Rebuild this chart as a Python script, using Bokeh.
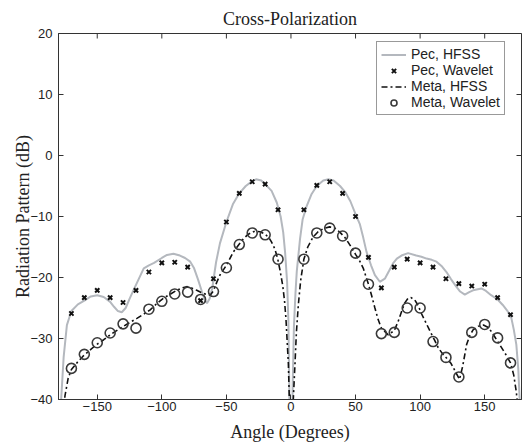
import math
from bokeh.plotting import figure
from bokeh.models import FixedTicker, Range1d, Legend, LegendItem, Title
from bokeh.embed import file_html
from bokeh.resources import INLINE

# Pec, HFSS (simulated curve)
pec_hfss_angle = [-178.5, -176, -173.5, -170, -165, -160, -155, -150, -145, -140, -137, -134, -131, -128,
                  -125, -122, -118, -114, -110, -106, -100, -96, -91, -86, -82, -78, -75, -72, -69, -67,
                  -65, -63, -61, -58, -55, -50, -45, -40, -35, -30, -27, -23, -20, -15, -11, -8, -6, -4.5,
                  -3, -2, -1.3, -0.8, 0, 0.8, 1.3, 2.3, 3.5, 4.5, 7, 9, 12, 16, 20, 25, 29, 33, 38, 42,
                  46, 50, 53.4, 56, 58.5, 62, 65, 68.8, 72.7, 76, 79, 82, 85.6, 90.7, 97, 101, 105, 109,
                  112.7, 117, 120.4, 124, 128, 131, 134.6, 138, 141, 147.5, 151, 155, 160, 164, 168,
                  170.7, 172.5, 174.5, 176, 177.5]
pec_hfss_db = [-42, -33, -27.8, -25.5, -24.4, -23.8, -23.1, -22.9, -23.2, -24.0, -24.8, -25.5, -25.7, -25.0,
               -23.5, -22.1, -20.3, -18.5, -18.0, -17.6, -16.8, -16.3, -16.1, -16.4, -16.8, -17.4, -18.5,
               -20.3, -22.3, -23.6, -24.2, -23.5, -21.8, -17.5, -14.4, -10.9, -8.0, -6.2, -5.0, -4.2, -3.9,
               -4.1, -4.7, -5.8, -7.7, -10.0, -12.6, -16, -20.7, -27, -38, -50, -60, -50, -38, -28, -22.5,
               -19, -13.7, -10.5, -8.4, -6.3, -5.0, -4.1, -3.9, -4.1, -5.0, -6.0, -7.5, -9.6, -11.3,
               -13.5, -15.8, -18, -19.6, -20.7, -20.2, -18.9, -17.7, -16.9, -16.4, -16.0, -16.4, -16.6,
               -16.9, -17.1, -17.4, -18.2, -19.1, -20.3, -21.5, -22.3, -22.8, -22.4, -22.1, -21.8, -22.2,
               -22.9, -23.6, -24.5, -25.6, -26.7, -28.5, -31, -35, -42]

# Meta, HFSS (simulated curve)
meta_hfss_angle = [-176, -175, -172.5, -170, -165, -161, -155, -150.6, -145, -140, -135, -129.7, -125,
                   -119.3, -114, -109, -104, -98.8, -94, -88.4, -84, -80.7, -77, -73, -68, -65, -62.6, -60,
                   -57.5, -55, -50, -44.6, -40, -37, -33, -28, -24, -20, -17, -15, -12.5, -10.3, -8.5,
                   -6.4, -5, -3.9, -2, -1.3, -0.7, 0, 0.8, 1.8, 3.1, 4.2, 5.7, 7.5, 10, 13, 17, 21, 25,
                   30, 34, 38, 42, 45.7, 50, 52.5, 56, 60, 62.5, 65, 67.5, 70, 75.3, 80, 83, 85.6, 88,
                   90.7, 93, 95.9, 98.5, 101, 104, 107.7, 111, 114, 117, 120.4, 124, 127, 130.5, 133,
                   136, 138.5, 141, 145, 149, 152, 155, 158, 161.6, 166, 170, 172.5, 174.5, 176]
meta_hfss_db = [-42, -39.4, -36.5, -35.1, -33.8, -32.9, -31.8, -31.0, -30.2, -29.4, -28.7, -28.0, -27.4,
                -26.7, -26.0, -25.3, -24.3, -23.4, -22.8, -22.1, -21.7, -21.5, -21.7, -22.1, -22.6, -22.8,
                -22.9, -22.2, -20.8, -19.6, -18.0, -15.8, -14.5, -13.7, -12.9, -12.4, -12.5, -12.9, -13.5,
                -14.2, -15.3, -16.9, -18.8, -21.3, -23.8, -26.7, -34.2, -39.7, -48, -60, -48, -40, -34.2,
                -29, -24.5, -20.5, -17.0, -15, -13.4, -12.5, -12.0, -11.7, -11.9, -12.6, -13.5, -14.7,
                -16.2, -17.0, -18.5, -21.1, -23, -25.0, -26.9, -28.3, -29.4, -28.7, -27.2, -25.6, -24.2,
                -23.4, -23.3, -23.7, -24.6, -25.9, -27.2, -28.8, -30.2, -31.5, -32.4, -33.2, -34.1, -35.3,
                -36.7, -34.5, -31.0, -29.5, -28.6, -28.0, -27.8, -28.1, -28.8, -29.8, -31.0, -32.5, -34.0,
                -36, -38.8, -42]

# Wavelet samples
wavelet_angle = [-170, -160, -150, -140, -130, -120, -110, -100, -90, -80, -70, -60, -50, -40, -30, -20, -10,
                 10, 20, 30, 40, 50, 60, 70, 80, 90, 100, 110, 120, 130, 140, 150, 160, 170]
pec_wavelet_db = [-25.9, -23.3, -22.1, -23.3, -24.1, -22.1, -19.1, -17.6, -17.5, -18.3, -23.8, -20.2, -10.9,
                  -6.2, -4.3, -4.7, -8.9, -8.9, -4.9, -4.3, -6.2, -10.0, -16.7, -21.7, -18.3, -17.0, -17.6,
                  -18.3, -20.2, -21.0, -21.4, -21.1, -23.3, -26.1]
meta_wavelet_db = [-34.9, -32.6, -30.7, -29.1, -27.6, -28.3, -25.2, -23.9, -22.7, -22.4, -23.6, -22.3, -18.4,
                   -14.6, -12.7, -13.0, -17.0, -17.0, -12.7, -11.9, -13.2, -16.0, -21.1, -29.2, -29.0, -25.0,
                   -25.0, -30.5, -33.1, -36.3, -29.0, -27.7, -29.9, -34.0]

x_ticks = [-150, -100, -50, 0, 50, 100, 150]
y_ticks = [-40, -30, -20, -10, 0, 10, 20]
x_lim = (-180, 178.5)
y_lim = (-40, 20)

serif = "Liberation Serif"
sans = "Liberation Sans"
axis_col = "#333333"
text_col = "#222222"

p = figure(width=523, height=446, output_backend="svg", toolbar_location=None,
           x_range=Range1d(*x_lim), y_range=Range1d(*y_lim),
           min_border_left=58, min_border_right=2, min_border_top=33, min_border_bottom=47)
p.background_fill_color = "white"
p.border_fill_color = "white"
p.outline_line_color = axis_col
p.outline_line_width = 1
p.xgrid.visible = False
p.ygrid.visible = False

p.title = Title(text="Cross-Polarization", align="center", text_font=serif,
                text_font_size="18px", text_font_style="normal", text_color=text_col,
                standoff=9, offset=0)

for ax in p.xaxis + p.yaxis:
    ax.major_tick_in = 5
    ax.major_tick_out = 0
    ax.minor_tick_line_color = None
    ax.axis_line_color = axis_col
    ax.major_tick_line_color = axis_col
    ax.major_label_text_font = sans
    ax.major_label_text_font_size = "13px"
    ax.major_label_text_color = text_col
    ax.axis_label_text_font = serif
    ax.axis_label_text_font_size = "18px"
    ax.axis_label_text_font_style = "normal"
    ax.axis_label_text_color = text_col
p.xaxis.ticker = FixedTicker(ticks=x_ticks)
p.yaxis.ticker = FixedTicker(ticks=y_ticks)
p.xaxis.axis_label = "Angle (Degrees)"
p.yaxis.axis_label = "Radiation Pattern (dB)"
p.xaxis.major_label_standoff = 2
p.yaxis.major_label_standoff = 6
p.xaxis.axis_label_standoff = 8
p.yaxis.axis_label_standoff = -6

# inward tick marks on the top and right edges of the box (clipped to the frame)
p.scatter(x_ticks, [y_lim[1]] * len(x_ticks), marker="dash", size=10, angle=math.pi / 2,
          line_color=axis_col, line_width=1)
p.scatter([x_lim[1]] * len(y_ticks), y_ticks, marker="dash", size=10, angle=0,
          line_color=axis_col, line_width=1)

r1 = p.line(pec_hfss_angle, pec_hfss_db, line_color="#b4b8be", line_width=2)
r2 = p.scatter(wavelet_angle, pec_wavelet_db, marker="x", size=6, line_color="#111111", line_width=2)
r3 = p.line(meta_hfss_angle, meta_hfss_db, line_color="#111111", line_width=1.6, line_dash="6 3 2 3")
r4 = p.scatter(wavelet_angle, meta_wavelet_db, marker="circle", size=10, line_color="#3a3a3a",
               line_width=1.6, fill_color=None)

legend = Legend(items=[LegendItem(label="Pec, HFSS", renderers=[r1]),
                       LegendItem(label="Pec, Wavelet", renderers=[r2]),
                       LegendItem(label="Meta, HFSS", renderers=[r3]),
                       LegendItem(label="Meta, Wavelet", renderers=[r4])],
                location=(318, 284), label_text_font=sans, label_text_font_size="14px",
                label_text_color=text_col, label_height=15, glyph_height=15, glyph_width=25,
                label_standoff=5, spacing=0, padding=4, margin=0,
                border_line_color=axis_col, border_line_width=1, background_fill_alpha=1)
p.add_layout(legend, "center")

open("out.html", "w").write(file_html(p, INLINE))
